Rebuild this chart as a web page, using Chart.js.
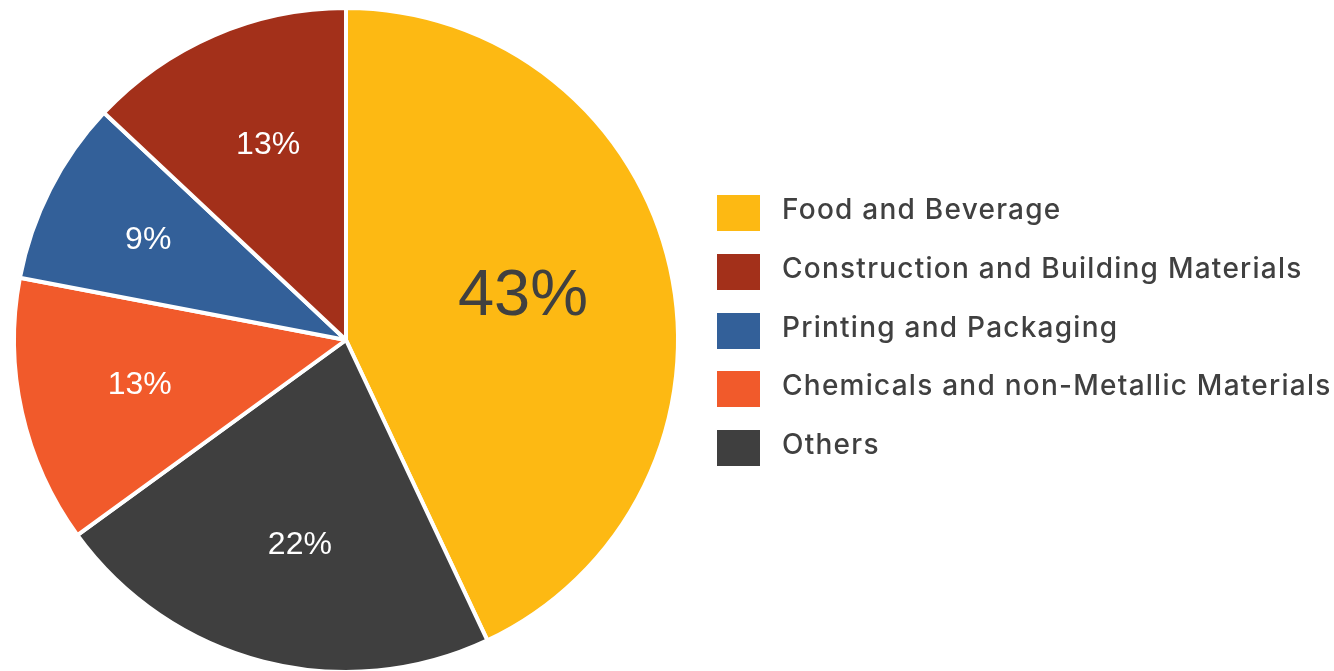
<!DOCTYPE html>
<html>
<head>
<meta charset="utf-8">
<script src="https://cdn.jsdelivr.net/npm/chart.js@4.4.1/dist/chart.umd.min.js"></script>
<style>
  html, body { margin: 0; padding: 0; background: #ffffff; }
  #wrap { position: relative; width: 1334px; height: 671px; overflow: hidden; }
  #chart { position: absolute; left: 0; top: 0; }
  #legend { position: absolute; left: 717px; top: 195px; margin: 0; padding: 0; list-style: none; }
  #legend li { position: relative; height: 58.75px; }
  #legend .box { position: absolute; left: 0; top: 0; width: 43px; height: 36px; }
  #legend .txt { position: absolute; left: 65px; top: 14px; transform: translateY(-50%);
    font-family: "Inter", "Open Sans", sans-serif; font-weight: 500; font-size: 28px; letter-spacing: 1.25px;
    color: #404040; white-space: nowrap; line-height: 1; }
</style>
</head>
<body>
<div id="wrap">
  <canvas id="chart" width="1334" height="671"></canvas>
  <ul id="legend"></ul>
</div>
<script>
// Slices in drawing order, clockwise from 12 o'clock
const categories = [
  "Food and Beverage",
  "Others",
  "Chemicals and non-Metallic Materials",
  "Printing and Packaging",
  "Construction and Building Materials"
];
const shares = [43, 22, 13, 9, 13];
const sliceColors = ["#FDB913", "#3F3F3F", "#F15A2B", "#336099", "#A3301A"];
// Order of entries in the key
const legendOrder = [
  "Food and Beverage",
  "Construction and Building Materials",
  "Printing and Packaging",
  "Chemicals and non-Metallic Materials",
  "Others"
];

// Percent labels placed inside each slice
const sliceLabels = {
  id: "sliceLabels",
  afterDatasetsDraw(chart, args, opts) {
    const ctx = chart.ctx;
    const meta = chart.getDatasetMeta(0);
    const values = chart.data.datasets[0].data;
    meta.data.forEach((arc, i) => {
      const p = arc.getProps(["x", "y", "startAngle", "endAngle", "outerRadius"], true);
      const mid = (p.startAngle + p.endAngle) / 2 + opts.turn[i];
      const r = p.outerRadius * opts.radial[i];
      const x = p.x + Math.cos(mid) * r;
      const y = p.y + Math.sin(mid) * r + 2;
      const big = values[i] === Math.max(...values);
      ctx.save();
      ctx.font = (big ? opts.bigSize : opts.size) + "px 'Liberation Sans', Arial, sans-serif";
      ctx.fillStyle = big ? opts.bigColor : opts.color;
      ctx.textAlign = "center";
      ctx.textBaseline = "middle";
      ctx.fillText(values[i] + "%", x, y);
      ctx.restore();
    });
  }
};

const chart = new Chart(document.getElementById("chart"), {
  type: "pie",
  data: {
    labels: categories,
    datasets: [{
      data: shares,
      backgroundColor: sliceColors,
      borderColor: "#ffffff",
      borderWidth: 4,
      radius: 332
    }]
  },
  options: {
    responsive: false,
    animation: false,
    layout: { padding: { left: 0, right: 642, top: 9, bottom: 0 } },
    plugins: {
      legend: { display: false },
      tooltip: { enabled: false },
      sliceLabels: {
        radial: [0.55, 0.627, 0.635, 0.67, 0.638],
        turn: [-0.03, -0.028, 0.012, 0.004, 0.032],
        size: 32, color: "#ffffff",
        bigSize: 65, bigColor: "#404040"
      }
    }
  },
  plugins: [sliceLabels]
});

// Key built from the chart's own legend items
const items = chart.options.plugins.legend.labels.generateLabels(chart);
items.sort((a, b) => legendOrder.indexOf(a.text) - legendOrder.indexOf(b.text));
const ul = document.getElementById("legend");
items.forEach(it => {
  const li = document.createElement("li");
  const box = document.createElement("span");
  box.className = "box";
  box.style.background = it.fillStyle;
  const t = document.createElement("span");
  t.className = "txt";
  t.textContent = it.text;
  li.appendChild(box);
  li.appendChild(t);
  ul.appendChild(li);
});
</script>
</body>
</html>
